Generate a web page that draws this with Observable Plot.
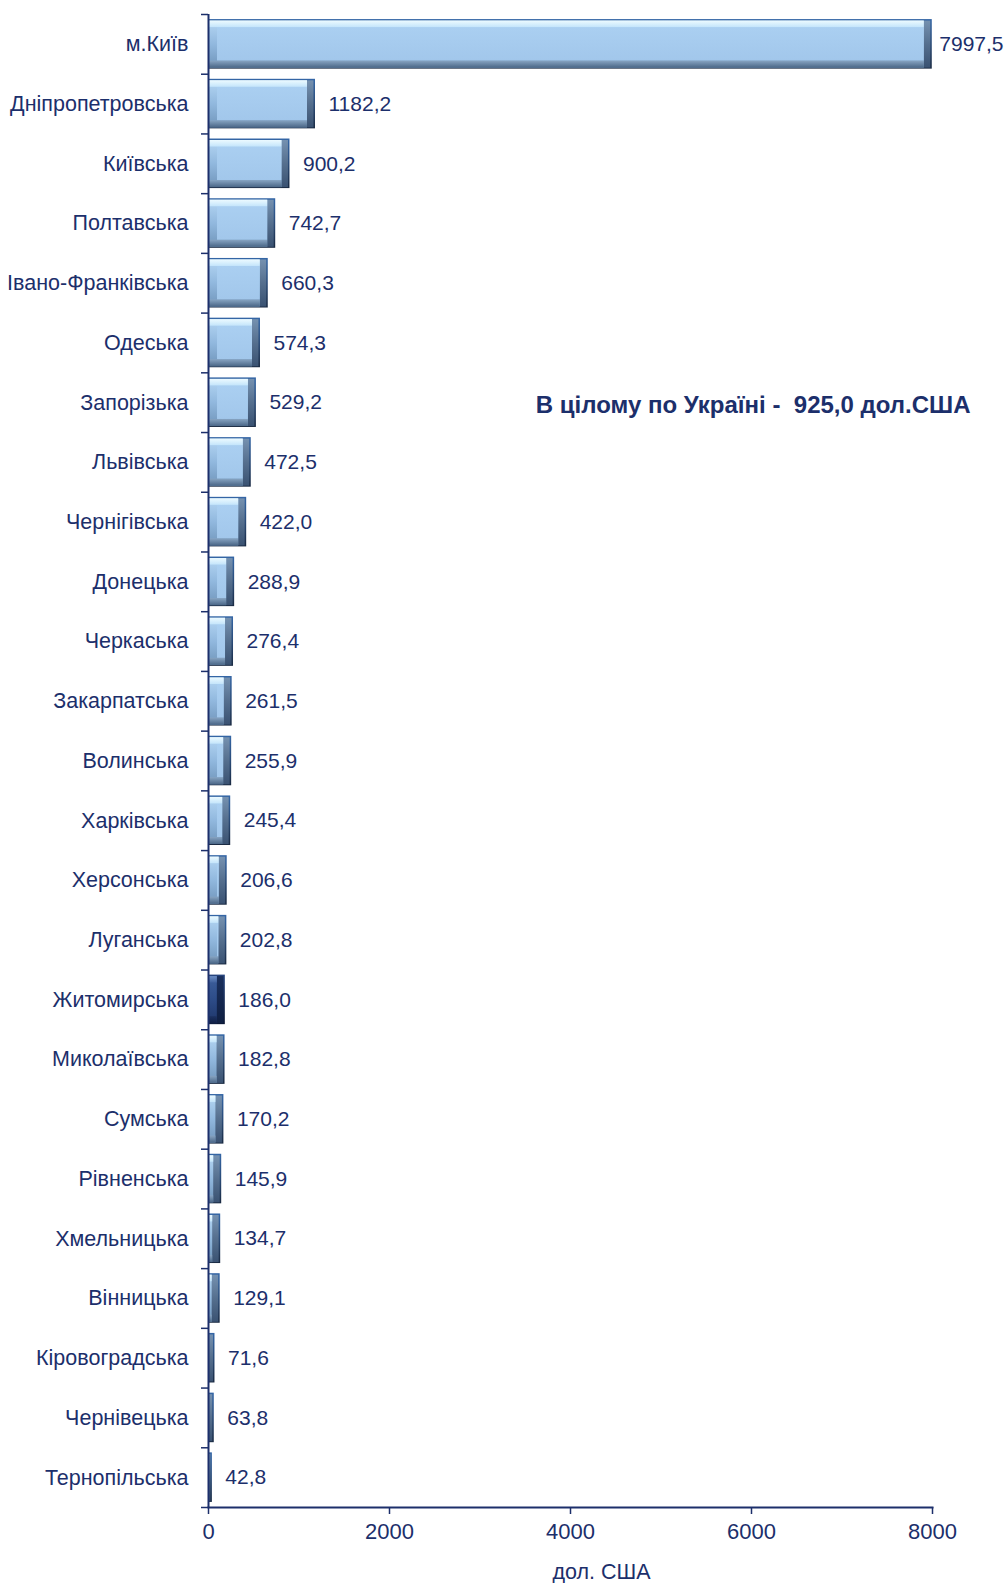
<!DOCTYPE html>
<html>
<head>
<meta charset="utf-8">
<script src="https://cdn.jsdelivr.net/npm/d3@7"></script>
<script src="https://cdn.jsdelivr.net/npm/@observablehq/plot@0.6"></script>
<style>
  html, body { margin: 0; padding: 0; background: #fff; }
  svg text { white-space: pre; }
</style>
</head>
<body>
<div id="chart"></div>
<script>
const regions = ["м.Київ","Дніпропетровська","Київська","Полтавська","Івано-Франківська","Одеська","Запорізька","Львівська","Чернігівська","Донецька","Черкаська","Закарпатська","Волинська","Харківська","Херсонська","Луганська","Житомирська","Миколаївська","Сумська","Рівненська","Хмельницька","Вінницька","Кіровоградська","Чернівецька","Тернопільська"];
const values = [7997.5,1182.2,900.2,742.7,660.3,574.3,529.2,472.5,422.0,288.9,276.4,261.5,255.9,245.4,206.6,202.8,186.0,182.8,170.2,145.9,134.7,129.1,71.6,63.8,42.8];
const highlighted = "Житомирська";
const xTicks = [0, 2000, 4000, 6000, 8000];
const xLabel = "дол. США";
const totalText = "В цілому по Україні -  ";
const totalValue = 925.0;
const totalUnit = " дол.США";

const fmt = v => d3.format(".1f")(v).replace(".", ",");
const rows = regions.map((name, i) => ({name, value: values[i]}));

const W = 1008, H = 1583, mt = 14, mb = 76, ml = 208, mr = 76;
const pad = 0.17;
const step = (H - mt - mb) / regions.length;
const bw = step * (1 - pad);
const navy = "#1c2f6b";
const font = "'Liberation Sans', Arial, sans-serif";

const bar = (opts) => Plot.barX(rows, {y: "name", x: "value", ...opts});

// bevelled bar built from layered bar marks (p = palette id suffix)
function bevel(filter, p) {
  const bv = 8;  // bevel width in px
  return [
    bar({filter, fill: `url(#ol${p})`}),
    bar({filter, fill: `url(#rb${p})`, insetTop: 1.5, insetBottom: 1, insetLeft: 1, insetRight: 1.5}),
    bar({filter, fill: `url(#lb${p})`, insetTop: 1.5, insetBottom: 1, insetLeft: 1, insetRight: bv}),
    bar({filter, fill: `url(#fc${p})`, insetTop: bv, insetBottom: bv, insetLeft: bv + 1, insetRight: bv}),
    bar({filter, fill: `url(#tp${p})`, insetTop: 1.5, insetBottom: bw - bv, insetLeft: 1, insetRight: bv}),
    bar({filter, fill: `url(#bt${p})`, insetTop: bw - bv, insetBottom: 1, insetLeft: 1, insetRight: bv})
  ];
}

const xMax = 8000;
const chart = Plot.plot({
  width: W, height: H,
  marginTop: mt, marginBottom: mb, marginLeft: ml, marginRight: mr,
  style: {fontFamily: font, color: navy, background: "#fff"},
  x: {domain: [0, xMax]},
  y: {domain: regions, paddingInner: pad, paddingOuter: pad / 2, round: false, label: null},
  marks: [
    ...bevel(d => d.name !== highlighted, ""),
    ...bevel(d => d.name === highlighted, "h"),
    // value labels
    Plot.text(rows, {filter: d => d.value < xMax * 0.9, y: "name", x: "value", text: d => fmt(d.value), textAnchor: "start", dx: 13, fontSize: 21, fill: navy}),
    Plot.text(rows, {filter: d => d.value >= xMax * 0.9, y: "name", x: "value", text: d => fmt(d.value), textAnchor: "start", dx: 7, fontSize: 21, fill: navy}),
    // axes
    Plot.axisY({tickSize: 0, tickPadding: 20, fontSize: 21.5, fill: navy, textAnchor: "end", label: null}),
    Plot.axisY({text: null, tickSize: 7, dy: step / 2, stroke: navy, strokeWidth: 1.5, label: null}),
    Plot.axisY([regions[0]], {text: null, tickSize: 7, dy: -step / 2, stroke: navy, strokeWidth: 1.5, label: null}),
    Plot.ruleX([0], {stroke: navy, strokeWidth: 2}),
    Plot.frame({anchor: "bottom", stroke: navy, strokeWidth: 2}),
    Plot.axisX({ticks: xTicks, tickFormat: d => String(d), tickSize: 7, tickPadding: 9, fontSize: 22, fill: navy, stroke: navy, strokeWidth: 1.5, label: null}),
    Plot.text([xLabel], {frameAnchor: "bottom", dy: 71, dx: 31, fontSize: 21.5, fill: navy}),
    Plot.text([totalText + fmt(totalValue) + totalUnit], {frameAnchor: "top-right", textAnchor: "end", dx: 38, dy: 381, fontSize: 24, fontWeight: "bold", fill: navy})
  ]
});

const grad = (id, stops) => `<linearGradient id="${id}" x1="0" y1="0" x2="0" y2="1">${
  stops.map(([o, c]) => `<stop offset="${o}" stop-color="${c}"/>`).join("")}</linearGradient>`;

chart.insertAdjacentHTML("afterbegin", `<defs>
  ${grad("ol", [[0, "#3466a6"], [0.5, "#2a4b78"], [1, "#1a2a42"]])}
  ${grad("rb", [[0, "#7591b0"], [0.5, "#556f8e"], [1, "#3a5272"]])}
  ${grad("lb", [[0, "#b4d6f3"], [0.5, "#91b8de"], [1, "#7095ba"]])}
  ${grad("fc", [[0, "#aacff1"], [1, "#a2c7eb"]])}
  ${grad("tp", [[0, "#ecfaff"], [1, "#c4e5fb"]])}
  ${grad("bt", [[0, "#87a4c2"], [1, "#4b6787"]])}
  ${grad("olh", [[0, "#27457e"], [1, "#0b1734"]])}
  ${grad("rbh", [[0, "#1a2f5c"], [1, "#0f1f42"]])}
  ${grad("lbh", [[0, "#3d5f9c"], [0.5, "#2d4c88"], [1, "#1e3669"]])}
  ${grad("fch", [[0, "#223e78"], [1, "#1e376d"]])}
  ${grad("tph", [[0, "#6c8dc4"], [1, "#3f609c"]])}
  ${grad("bth", [[0, "#1c3262"], [1, "#0f1f45"]])}
</defs>`);

document.getElementById("chart").appendChild(chart);
</script>
</body>
</html>
